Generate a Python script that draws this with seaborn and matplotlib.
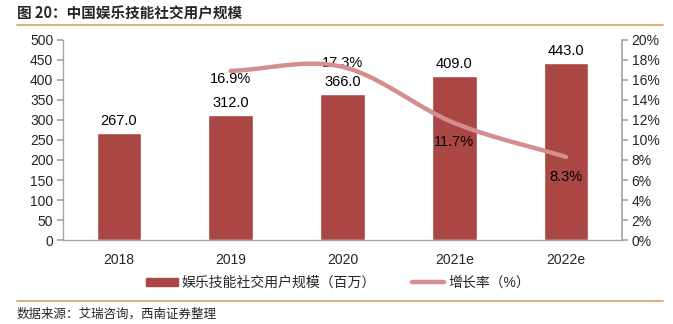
import numpy as np
import pandas as pd
import matplotlib
matplotlib.use("Agg")
import matplotlib.pyplot as plt
from matplotlib.lines import Line2D
from matplotlib.patches import Patch
import seaborn as sns

years = ["2018", "2019", "2020", "2021e", "2022e"]
users = [267.0, 312.0, 366.0, 409.0, 443.0]
growth_years = ["2019", "2020", "2021e", "2022e"]
growth = [16.9, 17.3, 11.7, 8.3]

title = "图 20：中国娱乐技能社交用户规模"
bar_label = "娱乐技能社交用户规模（百万）"
line_label = "增长率（%）"
source = "数据来源：艾瑞咨询，西南证券整理"

sns.set_theme(style="white")
plt.rcParams["font.family"] = ["Liberation Sans", "Noto Sans CJK SC"]

BAR = "#AA4643"
LINE = "#D48E8D"
AXIS = "#A6A6A6"
RULE = "#D9A25F"

fig = plt.figure(figsize=(6.73, 3.24), dpi=100)
ax = fig.add_axes([0.0936, 0.259, 0.8306, 0.618])

df = pd.DataFrame({"year": years, "users": users})
sns.barplot(data=df, x="year", y="users", color=BAR, width=0.4,
            saturation=1, ax=ax)
ax.set_ylim(0, 500)
ax.set_yticks(np.arange(0, 501, 50))
ax.set_xlabel("")
ax.set_ylabel("")
ax.tick_params(axis="y", labelsize=10, length=4, color=AXIS, pad=3,
               left=True, direction="out")
ax.tick_params(axis="x", labelsize=10, length=0, pad=9)
for s in ["top", "right"]:
    ax.spines[s].set_visible(False)
for s in ["left", "bottom"]:
    ax.spines[s].set_color(AXIS)
    ax.spines[s].set_linewidth(1)
for i, v in enumerate(users):
    ax.text(i, v + 12, f"{v:.1f}", ha="center", va="bottom", fontsize=10.5,
            color="black")

ax2 = ax.twinx()
ax2.set_ylim(0, 20)
ax2.set_yticks(np.arange(0, 21, 2))
ax2.set_yticklabels([f"{t}%" for t in range(0, 21, 2)])
ax2.tick_params(axis="y", labelsize=10, length=4, color=AXIS, pad=3,
                right=True, direction="out")
for s in ["top", "left", "bottom"]:
    ax2.spines[s].set_visible(False)
ax2.spines["right"].set_color(AXIS)
ax2.grid(False)

# smoothed growth line (Catmull-Rom curve through the yearly points)
xs = np.array([years.index(y) for y in growth_years], dtype=float)
ys = np.array(growth, dtype=float)
px = np.concatenate([[2 * xs[0] - xs[1]], xs, [2 * xs[-1] - xs[-2]]])
py = np.concatenate([[2 * ys[0] - ys[1]], ys, [2 * ys[-1] - ys[-2]]])
cx, cy = [], []
t = np.linspace(0, 1, 40)
for k in range(1, len(px) - 2):
    p0, p1, p2, p3 = [np.array([px[j], py[j]]) for j in range(k - 1, k + 3)]
    m1 = (p2 - p0) / 2
    m2 = (p3 - p1) / 2
    h00 = 2 * t**3 - 3 * t**2 + 1
    h10 = t**3 - 2 * t**2 + t
    h01 = -2 * t**3 + 3 * t**2
    h11 = t**3 - t**2
    seg = (np.outer(h00, p1) + np.outer(h10, m1) + np.outer(h01, p2)
           + np.outer(h11, m2))
    cx.extend(seg[:, 0])
    cy.extend(seg[:, 1])
ax2.plot(cx, cy, color=LINE, lw=3.2, solid_capstyle="round", zorder=3)

# vertical placement of each percentage label relative to its point
offsets = {"2019": -0.8, "2020": 0.4, "2021e": -1.9, "2022e": -2.0}
for y, g in zip(growth_years, growth):
    i = years.index(y)
    ax2.text(i, g + offsets[y], f"{g:.1f}%", ha="center", va="center",
             fontsize=10.5, color="black", zorder=2)

ax.set_xlim(-0.5, 4.5)

handles = [Patch(facecolor=BAR, edgecolor=BAR),
           Line2D([0], [0], color=LINE, lw=3.2)]
fig.legend(handles, [bar_label, line_label], loc="center",
           bbox_to_anchor=(0.502, 0.127), ncol=2, frameon=False, fontsize=10,
           handlelength=2.3, handleheight=0.6, handletextpad=0.3,
           columnspacing=2.6)

fig.text(0.025, 0.96, title, fontsize=10.5, fontweight="bold",
         family=["Noto Sans CJK SC", "Liberation Sans"], va="center")
fig.add_artist(Line2D([0.025, 0.985], [0.923, 0.923], color=RULE, lw=1.2))
fig.add_artist(Line2D([0.025, 0.985], [0.071, 0.071], color=RULE, lw=1.2))
fig.text(0.025, 0.030, source, fontsize=9, style="italic",
         family=["Noto Sans CJK SC", "Liberation Sans"], va="center")

fig.savefig("out.png", dpi=100)
